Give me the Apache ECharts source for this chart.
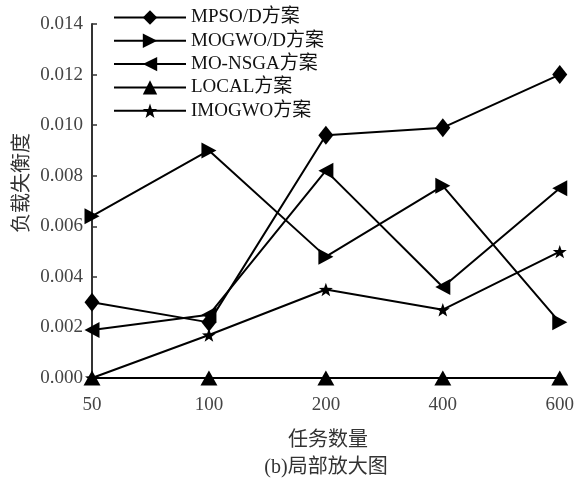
<!DOCTYPE html>
<html>
<head>
<meta charset="utf-8">
<script src="https://cdn.jsdelivr.net/npm/echarts@6/dist/echarts.min.js"></script>
<style>
  html, body { margin: 0; padding: 0; background: #fff; }
  #chart { width: 577px; height: 482px; }
</style>
</head>
<body>
<div id="chart"></div>
<script>
// Task counts on the x axis
var taskCounts = ['50', '100', '200', '400', '600'];

// Load imbalance degree for each scheme
var mpsoD   = [0.0030, 0.0022, 0.0096, 0.0099, 0.0120];
var mogwoD  = [0.0064, 0.0090, 0.0048, 0.0076, 0.0022];
var moNsga  = [0.0019, 0.0025, 0.0082, 0.0036, 0.0075];
var local   = [0.0000, 0.0000, 0.0000, 0.0000, 0.0000];
var imogwo  = [0.0000, 0.0017, 0.0035, 0.0027, 0.0050];

var seriesNames = ['MPSO/D方案', 'MOGWO/D方案', 'MO-NSGA方案', 'LOCAL方案', 'IMOGWO方案'];

var serif = '"Liberation Serif", "Times New Roman", "Noto Sans CJK SC", serif';
var cjk = '"Noto Sans CJK SC", "Liberation Serif", serif';

var triRight = 'path://M0,0 L10,5 L0,10 Z';
var triLeft = 'path://M10,0 L0,5 L10,10 Z';
var star = 'path://M10,0 L12.35,6.76 L19.51,6.91 L13.8,11.24 L15.88,18.09 L10,14 L4.12,18.09 L6.2,11.24 L0.49,6.91 L7.65,6.76 Z';

function makeSeries(name, data, symbol, size) {
  return {
    name: name,
    type: 'line',
    data: data,
    symbol: symbol,
    symbolSize: size,
    symbolKeepAspect: true,
    showAllSymbol: true,
    lineStyle: { color: '#000', width: 2 },
    itemStyle: { color: '#000' },
    emphasis: { disabled: true },
    animation: false
  };
}

var chart = echarts.init(document.getElementById('chart'), null, { renderer: 'canvas' });
chart.setOption({
  backgroundColor: '#fff',
  animation: false,
  grid: { left: 92, right: 14, top: 24, bottom: 104 },
  legend: {
    left: 108,
    top: 3,
    orient: 'vertical',
    itemWidth: 72,
    itemHeight: 18,
    itemGap: 4.3,
    data: seriesNames,
    textStyle: { fontFamily: serif, fontSize: 19, color: '#111' },
    selectedMode: false
  },
  xAxis: {
    type: 'category',
    data: taskCounts,
    boundaryGap: false,
    axisLine: { lineStyle: { color: '#333', width: 2 } },
    axisTick: { show: false },
    axisLabel: { fontFamily: serif, fontSize: 19, color: '#444', margin: 18 },
    splitLine: { show: false }
  },
  yAxis: {
    type: 'value',
    min: 0,
    max: 0.014,
    interval: 0.002,
    axisLine: { show: true, lineStyle: { color: '#333', width: 2 } },
    axisTick: { show: true, inside: true, length: 5, lineStyle: { color: '#333', width: 1.5 } },
    axisLabel: {
      fontFamily: serif, fontSize: 19, color: '#444', margin: 9,
      formatter: function (v) { return v.toFixed(3); }
    },
    splitLine: { show: false }
  },
  graphic: [
    {
      type: 'text',
      x: 20, y: 183,
      rotation: Math.PI / 2,
      style: {
        text: '负载失衡度', font: '20px ' + cjk, fill: '#333',
        textAlign: 'center', textVerticalAlign: 'middle'
      }
    },
    {
      type: 'text',
      x: 328, y: 438,
      style: {
        text: '任务数量', font: '20px ' + cjk, fill: '#333',
        textAlign: 'center', textVerticalAlign: 'middle'
      }
    },
    {
      type: 'text',
      x: 326, y: 468,
      style: {
        text: '(b)局部放大图', font: '20px ' + serif, fill: '#333',
        textAlign: 'center', textVerticalAlign: 'middle'
      }
    }
  ],
  series: [
    makeSeries(seriesNames[0], mpsoD, 'diamond', [15, 19]),
    makeSeries(seriesNames[1], mogwoD, triRight, [15, 16]),
    makeSeries(seriesNames[2], moNsga, triLeft, [15, 16]),
    makeSeries(seriesNames[3], local, 'triangle', [17, 15]),
    makeSeries(seriesNames[4], imogwo, star, [14, 14])
  ]
});
</script>
</body>
</html>
